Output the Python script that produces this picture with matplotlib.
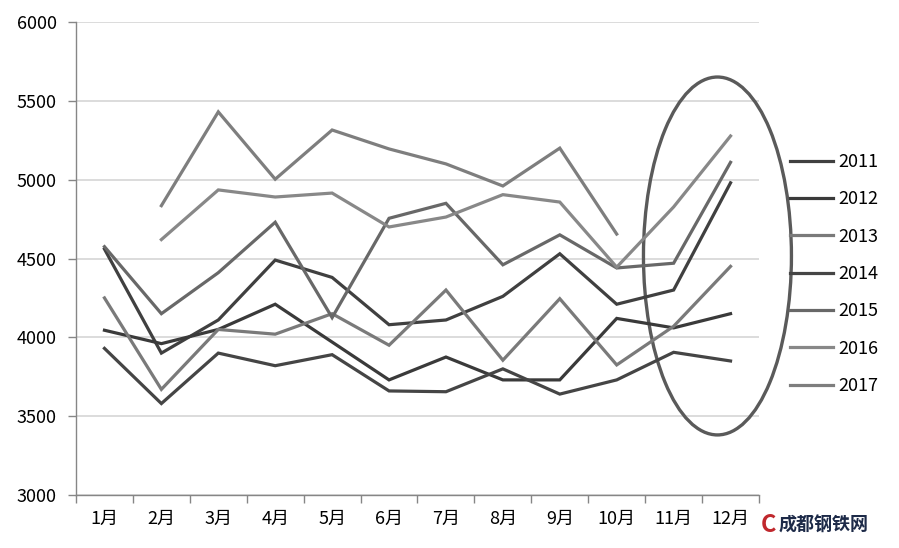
import numpy as np
import matplotlib
matplotlib.use('Agg')
import matplotlib.pyplot as plt
from matplotlib.patches import Ellipse

plt.rcParams['font.family'] = ['Noto Sans CJK SC', 'DejaVu Sans']

# Data
months = ['1月', '2月', '3月', '4月', '5月', '6月', '7月', '8月', '9月', '10月', '11月', '12月']
years = ['2011', '2012', '2013', '2014', '2015', '2016', '2017']
nan = np.nan
y2011 = [4560, 3900, 4110, 4490, 4380, 4080, 4110, 4260, 4530, 4210, 4300, 4980]
y2012 = [4045, 3960, 4050, 4210, 3970, 3730, 3875, 3730, 3730, 4120, 4060, 4150]
y2013 = [4250, 3670, 4050, 4020, 4150, 3950, 4300, 3855, 4245, 3825, 4070, 4450]
y2014 = [3930, 3580, 3900, 3820, 3890, 3660, 3655, 3800, 3640, 3730, 3905, 3850]
y2015 = [4575, 4150, 4410, 4730, 4125, 4755, 4850, 4460, 4650, 4440, 4470, 5110]
y2016 = [nan, 4620, 4935, 4890, 4915, 4700, 4763, 4905, 4858, 4445, 4827, 5277]
y2017 = [nan, 4835, 5430, 5003, 5315, 5195, 5100, 4960, 5200, 4655, nan, nan]
series = [y2011, y2012, y2013, y2014, y2015, y2016, y2017]

colors = ['#404040', '#3a3a3a', '#7a7a7a', '#454545', '#686868', '#888888', '#7e7e7e']

fig = plt.figure(figsize=(8.99, 5.48), dpi=100)
ax = fig.add_axes([76 / 899, 53 / 548, 683 / 899, 473 / 548])

x = np.arange(len(months))
for name, vals, c in zip(years, series, colors):
    ax.plot(x, vals, color=c, lw=2.3, label=name, solid_joinstyle='miter')

ax.set_xlim(-0.5, 11.5)
ax.set_ylim(3000, 6000)
ax.set_yticks(range(3000, 6001, 500))
ax.yaxis.grid(True, color='#d9d9d9', lw=1.3)
ax.set_axisbelow(True)

ax.set_xticks(x)
ax.set_xticklabels(months)
ax.set_xticks(np.arange(-0.5, 12, 1), minor=True)
ax.tick_params(axis='x', which='major', length=0, pad=11, labelsize=13)
ax.tick_params(axis='x', which='minor', length=6, color='#868686', width=1)
ax.tick_params(axis='y', length=6, color='#868686', width=1, pad=8, labelsize=13)

for side in ['top', 'right']:
    ax.spines[side].set_visible(False)
for side in ['left', 'bottom']:
    ax.spines[side].set_color('#868686')
    ax.spines[side].set_linewidth(1)

# highlight ellipse
ell = Ellipse((10.77, 4516), 2.6, 2270, fill=False, edgecolor='#5a5a5a', lw=2.4, clip_on=False)
ax.add_patch(ell)

ax.legend(loc='center left', bbox_to_anchor=(790 / 899, 1 - 274 / 548), bbox_transform=fig.transFigure,
          frameon=False, fontsize=13, handlelength=2.4, handletextpad=0.28, labelspacing=1.07,
          borderaxespad=0, borderpad=0)

# watermark
fig.text(761 / 899, 1 - 525 / 548, 'C', color='#c0282d', fontsize=17, fontweight='bold', va='center')
fig.text(779 / 899, 1 - 525 / 548, '成都钢铁网', color='#1d2a48', fontsize=13, fontweight='bold', va='center')

fig.savefig('out.png', dpi=100)
